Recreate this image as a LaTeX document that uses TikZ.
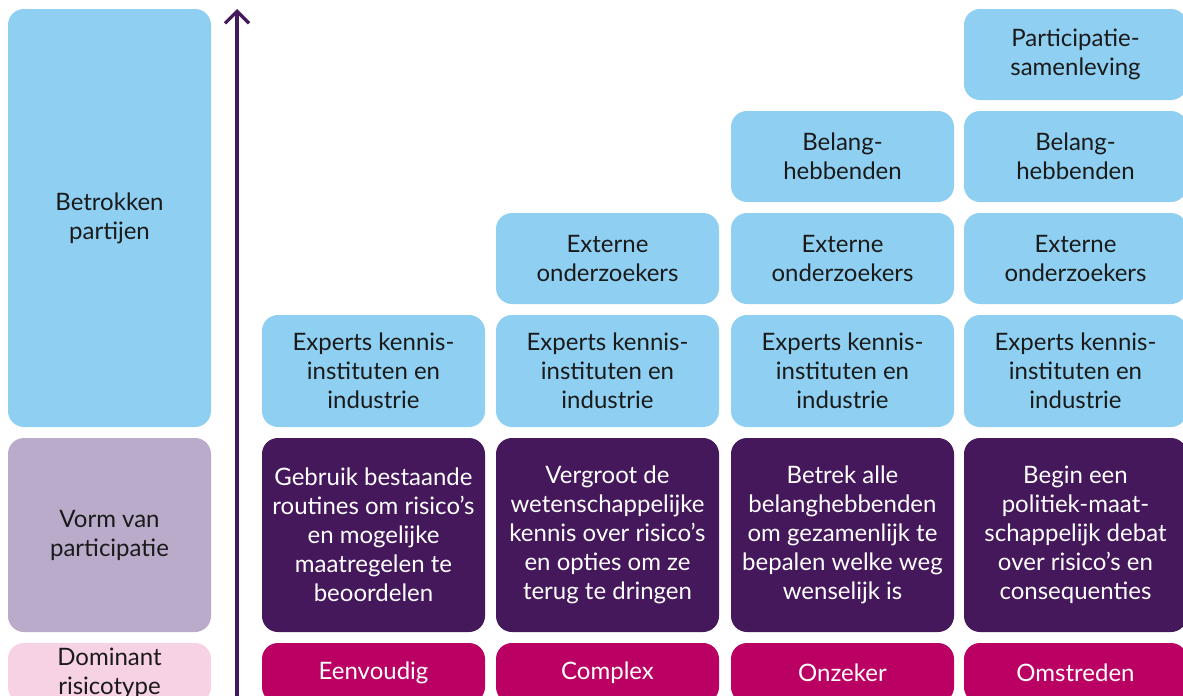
\documentclass[tikz,border=0pt]{standalone}
\usepackage{fontspec}
\setmainfont{Lato}
\usetikzlibrary{arrows.meta}
\definecolor{lichtblauw}{HTML}{8FD0F2}
\definecolor{lila}{HTML}{BAABCB}
\definecolor{roze}{HTML}{F7D2E4}
\definecolor{donkerpaars}{HTML}{45175B}
\definecolor{robijn}{HTML}{BB0063}
\definecolor{tekst}{HTML}{1A1A1A}

\begin{document}
\begin{tikzpicture}[x=0.75pt,y=-0.75pt,
	vak/.style={rectangle,rounded corners=12pt,align=center,inner sep=0pt,
		minimum width=167.25pt,text=tekst,font=\fontsize{18}{21.75}\selectfont},
	kop/.style={vak,minimum width=152.25pt},
	partij/.style={vak,fill=lichtblauw},
	vorm/.style={vak,fill=donkerpaars,text=white,minimum height=145.5pt},
	type/.style={vak,fill=robijn,text=white,minimum height=45pt}]

		\useasboundingbox (0,0) rectangle (1183,696);

		% linker kolom
		\node (partijen) [kop,fill=lichtblauw,minimum height=313.5pt] at (109.5,218) {Betrokken\\partijen};
		\node (vorm) [kop,fill=lila,minimum height=145.5pt] at (109.5,535) {Vorm van\\participatie};
		\node (type) [kop,fill=roze,minimum height=45pt] at (109.5,673) {Dominant\\risicotype};

		% as
		\coordinate (voet) at (237,710);
		\coordinate (top) at (237,9);
		\draw[-{Straight Barb[length=9pt,width=18pt]},line width=2.4pt,donkerpaars] (voet) -- (top);

		% betrokken partijen
		\foreach \x [count=\i] in {373.5,607.5,842.5,1075.5}
		\node (exp\i) [partij,minimum height=84pt] at (\x,371) {Experts kennis-\\instituten en\\industrie};
		\foreach \x [count=\i from 2] in {607.5,842.5,1075.5}
		\node (ext\i) [partij,minimum height=68.25pt] at (\x,258.5) {Externe\\onderzoekers};
		\foreach \x [count=\i from 3] in {842.5,1075.5}
		\node (bel\i) [partij,minimum height=68.25pt] at (\x,156.5) {Belang-\\hebbenden};
		\node (sam4) [partij,minimum height=68.25pt] at (1075.5,54.5) {Participatie-\\samenleving};

		% vorm van participatie
		\node (vorm1) [vorm] at (373.5,535) {Gebruik bestaande\\routines om risico’s\\en mogelijke\\maatregelen te\\beoordelen};
		\node (vorm2) [vorm] at (607.5,535) {Vergroot de\\wetenschappelijke\\kennis over risico’s\\en opties om ze\\terug te dringen};
		\node (vorm3) [vorm] at (842.5,535) {Betrek alle\\belanghebbenden\\om gezamenlijk te\\bepalen welke weg\\wenselijk is};
		\node (vorm4) [vorm] at (1075.5,535) {Begin een\\politiek-maat-\\schappelijk debat\\over risico’s en\\consequenties};

		% risicotype
		\foreach \x/\t [count=\i] in {373.5/Eenvoudig,607.5/Complex,842.5/Onzeker,1075.5/Omstreden}
		\node (type\i) [type] at (\x,673) {\t};
	\end{tikzpicture}
\end{document}
